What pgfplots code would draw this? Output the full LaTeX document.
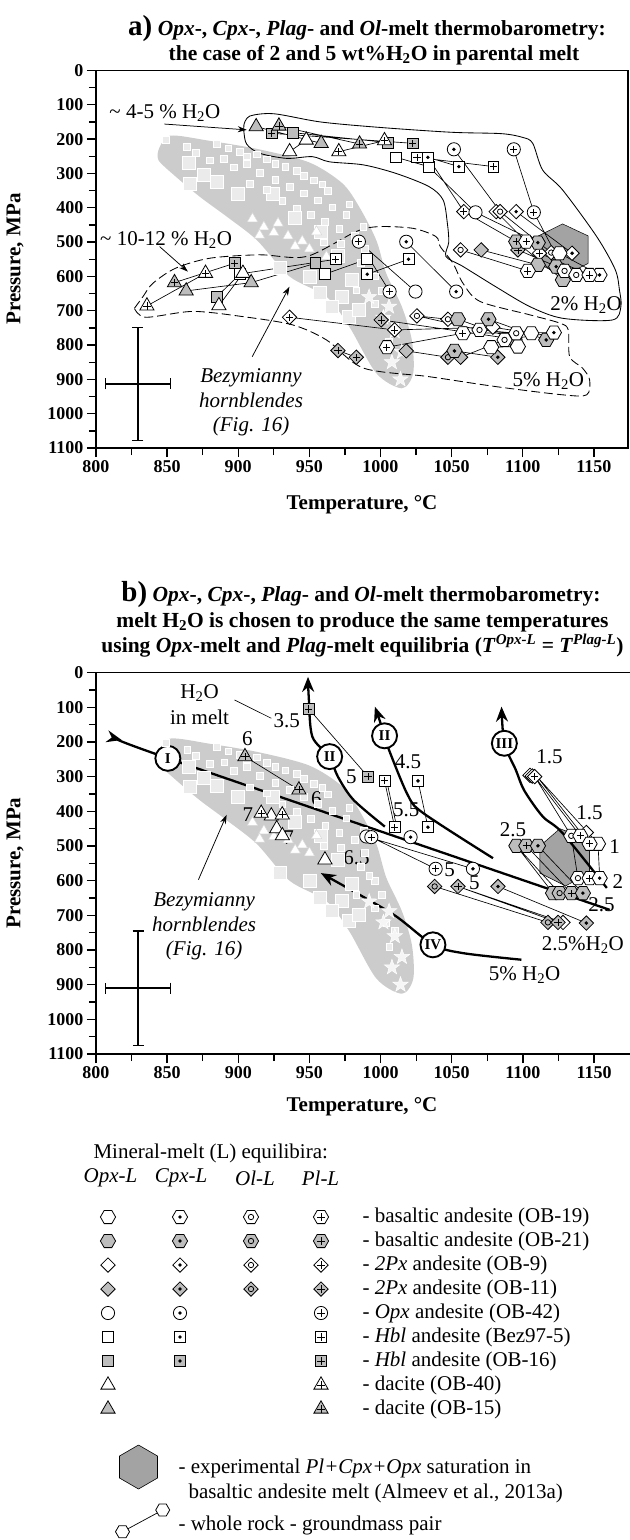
\documentclass[border=0pt]{standalone}
\usepackage{fontspec}
\setmainfont{Liberation Serif}
\usepackage{pgfplots}
\pgfplotsset{compat=1.18}
\usepackage{pgfplotstable}
\usetikzlibrary{arrows.meta}

\definecolor{blobgray}{gray}{0.80}
\definecolor{mkgray}{gray}{0.74}
\definecolor{expgray}{gray}{0.64}
\definecolor{hbfill}{gray}{0.92}
\newcommand\fs[2]{\fontsize{#1bp}{#2bp}\selectfont}

% ---------- plot marks: outline shapes ----------
\newcommand\hexpath{%
  \pgfpathmoveto{\pgfpoint{\pgfplotmarksize}{0pt}}%
  \pgfpathlineto{\pgfpoint{0.5\pgfplotmarksize}{0.866\pgfplotmarksize}}%
  \pgfpathlineto{\pgfpoint{-0.5\pgfplotmarksize}{0.866\pgfplotmarksize}}%
  \pgfpathlineto{\pgfpoint{-\pgfplotmarksize}{0pt}}%
  \pgfpathlineto{\pgfpoint{-0.5\pgfplotmarksize}{-0.866\pgfplotmarksize}}%
  \pgfpathlineto{\pgfpoint{0.5\pgfplotmarksize}{-0.866\pgfplotmarksize}}%
  \pgfpathclose}
\newcommand\diapath{%
  \pgfpathmoveto{\pgfpoint{0pt}{\pgfplotmarksize}}%
  \pgfpathlineto{\pgfpoint{\pgfplotmarksize}{0pt}}%
  \pgfpathlineto{\pgfpoint{0pt}{-\pgfplotmarksize}}%
  \pgfpathlineto{\pgfpoint{-\pgfplotmarksize}{0pt}}%
  \pgfpathclose}
\newcommand\sqrpath{%
  \pgfpathrectanglecorners{\pgfpoint{-\pgfplotmarksize}{-\pgfplotmarksize}}{\pgfpoint{\pgfplotmarksize}{\pgfplotmarksize}}}
\newcommand\cirpath{\pgfpathcircle{\pgfpointorigin}{\pgfplotmarksize}}
\newcommand\tripath{%
  \pgfpathmoveto{\pgfpoint{0pt}{\pgfplotmarksize}}%
  \pgfpathlineto{\pgfpoint{0.866\pgfplotmarksize}{-0.5\pgfplotmarksize}}%
  \pgfpathlineto{\pgfpoint{-0.866\pgfplotmarksize}{-0.5\pgfplotmarksize}}%
  \pgfpathclose}
% inner symbols: Cpx dot, Ol ring, Pl plus
\newcommand\indot{\begin{pgfscope}\pgfpathcircle{\pgfpointorigin}{1.9bp}\pgfsetfillcolor{black}\pgfusepathqfill\end{pgfscope}}
\newcommand\inring{\pgfpathcircle{\pgfpointorigin}{2.7bp}\pgfusepathqstroke}
\newcommand\inplus{\pgfpathmoveto{\pgfpoint{-3.6bp}{0pt}}\pgfpathlineto{\pgfpoint{3.6bp}{0pt}}%
  \pgfpathmoveto{\pgfpoint{0pt}{-3.6bp}}\pgfpathlineto{\pgfpoint{0pt}{3.6bp}}\pgfusepathqstroke}

\pgfdeclareplotmark{hexO}{\hexpath\pgfusepathqfillstroke}
\pgfdeclareplotmark{hexC}{\hexpath\pgfusepathqfillstroke\indot}
\pgfdeclareplotmark{hexL}{\hexpath\pgfusepathqfillstroke\inring}
\pgfdeclareplotmark{hexP}{\hexpath\pgfusepathqfillstroke\inplus}
\pgfdeclareplotmark{diaO}{\diapath\pgfusepathqfillstroke}
\pgfdeclareplotmark{diaC}{\diapath\pgfusepathqfillstroke\indot}
\pgfdeclareplotmark{diaL}{\diapath\pgfusepathqfillstroke\inring}
\pgfdeclareplotmark{diaP}{\diapath\pgfusepathqfillstroke\inplus}
\pgfdeclareplotmark{sqrO}{\sqrpath\pgfusepathqfillstroke}
\pgfdeclareplotmark{sqrC}{\sqrpath\pgfusepathqfillstroke\indot}
\pgfdeclareplotmark{sqrP}{\sqrpath\pgfusepathqfillstroke\inplus}
\pgfdeclareplotmark{cirO}{\cirpath\pgfusepathqfillstroke}
\pgfdeclareplotmark{cirC}{\cirpath\pgfusepathqfillstroke\indot}
\pgfdeclareplotmark{cirP}{\cirpath\pgfusepathqfillstroke\inplus}
\pgfdeclareplotmark{triO}{\tripath\pgfusepathqfillstroke}
\pgfdeclareplotmark{triP}{\tripath\pgfusepathqfillstroke\inplus}
\pgfdeclareplotmark{fstar}{%
  \pgfpathmoveto{\pgfpoint{0pt}{\pgfplotmarksize}}%
  \pgfpathlineto{\pgfpoint{-0.235\pgfplotmarksize}{0.324\pgfplotmarksize}}%
  \pgfpathlineto{\pgfpoint{-0.951\pgfplotmarksize}{0.309\pgfplotmarksize}}%
  \pgfpathlineto{\pgfpoint{-0.380\pgfplotmarksize}{-0.124\pgfplotmarksize}}%
  \pgfpathlineto{\pgfpoint{-0.588\pgfplotmarksize}{-0.809\pgfplotmarksize}}%
  \pgfpathlineto{\pgfpoint{0pt}{-0.4\pgfplotmarksize}}%
  \pgfpathlineto{\pgfpoint{0.588\pgfplotmarksize}{-0.809\pgfplotmarksize}}%
  \pgfpathlineto{\pgfpoint{0.380\pgfplotmarksize}{-0.124\pgfplotmarksize}}%
  \pgfpathlineto{\pgfpoint{0.951\pgfplotmarksize}{0.309\pgfplotmarksize}}%
  \pgfpathlineto{\pgfpoint{0.235\pgfplotmarksize}{0.324\pgfplotmarksize}}%
  \pgfpathclose\pgfusepathqfillstroke}

\pgfplotsset{
  W/.style={only marks, mark options={solid, fill=white, draw=black, line width=0.8bp}},
  G/.style={only marks, mark options={solid, fill=mkgray, draw=black, line width=0.8bp}},
  hx/.style={mark=hex#1, mark size=7.6bp},
  dm/.style={mark=dia#1, mark size=7.2bp},
  ci/.style={mark=cir#1, mark size=6.6bp},
  sq/.style={mark=sqr#1, mark size=5.4bp},
  tr/.style={mark=tri#1, mark size=8.2bp},
  pair/.style={no marks, line width=0.65bp, unbounded coords=jump},
  bigarrow/.style={no marks, smooth, line width=2.3bp, -{Stealth[length=15bp,width=12bp]}},
  errcross/.style={no marks, line width=1.6bp, {Bar[width=11bp]}-{Bar[width=11bp]}},
  panel/.style={scale only axis, xmin=800, ymin=0, ymax=1100, y dir=reverse,
    clip=false, axis line style={line width=1.5bp}, tick align=outside,
    xtick={800,850,...,1150}, minor xtick={825,875,...,1125},
    ytick={0,100,...,1100}, minor ytick={50,150,...,1050},
    major tick length=9bp, minor tick length=7bp,
    every tick/.style={black, line width=1.3bp},
    xtick pos=left, ytick pos=left,
    tick label style={font=\bfseries\fs{18}{18}},
    /pgf/number format/assume math mode=true, /pgf/number format/1000 sep={}},
}
\tikzset{
  ann/.style={font=\fs{21}{24}},
  rn/.style={circle, draw, line width=1.9bp, fill=white, minimum size=25bp, inner sep=0pt, font=\bfseries\fs{15}{15}},
  thinarrow/.style={line width=0.75bp, -{Stealth[length=9bp,width=6bp]}},
}

% Bezymianny hornblende field and its points
\pgfplotstableread{
T P
844 231
852 190
880 205
915 230
950 268
973 328
985 397
997 494
1004 591
1015 688
1022 785
1023 882
1015 926
997 882
978 746
962 659
936 600
913 494
892 426
873 368
856 309
844 262
844 231
}\blob
\pgfplotstableread{
T P
865 270
876 303
866 330
885 325
900 358
924 358
929 576
957 649
973 659
980 610
966 688
978 717
985 697
950 600
940 430
958 470
970 540
}\hbbig
\pgfplotstableread{
T P
849 202
864 222
885 214
893 226
901 236
906 250
913 244
920 259
926 271
933 281
941 292
946 306
953 320
959 332
963 351
897 282
906 272
915 298
926 318
936 338
946 358
956 378
966 398
976 420
931 380
941 401
951 421
961 441
971 461
982 482
989 520
986 560
996 600
1001 641
996 680
1004 722
890 258
908 330
920 348
972 505
960 500
988 455
978 390
992 585
1010 745
1006 790
983 640
870 240
880 262
}\hbsmall
\pgfplotstableread{
T P
910 432
918 456
925 472
935 482
945 497
928 445
950 520
940 512
962 542
955 470
915 480
}\hbtri
\pgfplotstableread{
T P
992 660
1006 688
1010 760
1002 720
1014 900
1015 820
1008 850
}\hbstar

\newcommand\hornblendes{%
  \addplot[fill=blobgray, draw=none, smooth] table {\blob};
  \addplot[only marks, mark=square*, mark size=6.5bp, mark options={fill=hbfill, draw=white, line width=0.6bp}] table {\hbbig};
  \addplot[only marks, mark=square*, mark size=3.3bp, mark options={fill=hbfill, draw=white, line width=0.5bp}] table {\hbsmall};
  \addplot[only marks, mark=triangle*, mark size=6bp, mark options={fill=white, draw=gray!30, line width=0.5bp}] table {\hbtri};
  \addplot[only marks, mark=fstar, mark size=8bp, mark options={fill=gray!8, draw=white, line width=0.5bp}] table {\hbstar};
}

\begin{document}
\begin{tikzpicture}
\path[use as bounding box] (0,0) rectangle (630bp,-1540bp);

% ---------------- titles and axis labels ----------------
\node[anchor=base, font=\bfseries\fs{21.5}{24}] at (367bp,-35bp)
  {{\fs{29}{30}a)} \textit{Opx}-, \textit{Cpx}-, \textit{Plag}- and \textit{Ol}-melt thermobarometry:};
\node[anchor=base, font=\bfseries\fs{21.5}{24}] at (374bp,-60bp)
  {the case of 2 and 5 wt\%H\textsubscript{2}O in parental melt};
\node[anchor=base, font=\bfseries\fs{21.5}{24}] at (361bp,-601bp)
  {{\fs{29}{30}b)} \textit{Opx}-, \textit{Cpx}-, \textit{Plag}- and \textit{Ol}-melt thermobarometry:};
\node[anchor=base, font=\bfseries\fs{21.5}{24}] at (362.5bp,-627bp)
  {melt H\textsubscript{2}O is chosen to produce the same temperatures};
\node[anchor=base, font=\bfseries\fs{21.5}{24}] at (362.5bp,-652bp)
  {using \textit{Opx}-melt and \textit{Plag}-melt equilibria (\textit{T}\textsuperscript{\textit{Opx-L}} = \textit{T}\textsuperscript{\textit{Plag-L}})};
\node[font=\bfseries\fs{21}{24}] at (362bp,-505bp) {Temperature, °C};
\node[font=\bfseries\fs{21}{24}] at (362bp,-1107bp) {Temperature, °C};
\node[rotate=90, font=\bfseries\fs{21}{24}] at (15bp,-259bp) {Pressure, MPa};
\node[rotate=90, font=\bfseries\fs{21}{24}] at (15bp,-863bp) {Pressure, MPa};

% ================= panel a =================
\begin{axis}[panel, at={(96bp,-70.5bp)}, anchor=north west, width=532bp, height=377.5bp, xmax=1174]
\hornblendes
% experimental Pl+Cpx+Opx saturation
\addplot[fill=expgray, draw=black, line width=0.5bp] coordinates {(1128,447)(1146,482)(1146,562)(1128,600)(1111,562)(1111,482)(1128,447)};
% 2 % H2O field (solid) and 5 % H2O field (dashed)
\addplot[smooth, line width=0.85bp] coordinates {(904,158)(908,133)(925,126)(958,150)(1000,166)(1050,180)(1085,184)(1100,195)(1107,212)(1114,290)(1128,348)(1152,484)(1165,580)(1168,640)(1169,688)(1163,727)(1128,722)(1105,688)(1081,630)(1058,571)(1046,542)(1048,500)(1047,445)(1044,377)(1034,338)(1011,300)(988,275)(964,266)(952,251)(934,256)(915,241)(906,215)(904,180)(904,158)};
\addplot[smooth, line width=0.85bp, dash pattern=on 9bp off 4bp] coordinates {(827,693)(833,659)(840,620)(856,576)(880,547)(915,537)(948,542)(983,469)(999,455)(1023,460)(1039,484)(1042,513)(1051,562)(1058,620)(1070,673)(1105,712)(1126,736)(1132,756)(1133,834)(1142,867)(1147,901)(1145,945)(1128,945)(1081,921)(1034,892)(988,867)(962,785)(938,741)(903,717)(868,702)(835,719)(827,693)};
% whole rock - groundmass pairs
\addplot[pair] coordinates {
(912.6,163.6)(958.3,212.2) (nan,nan) (928.6,161.7)(985.3,214.1) (nan,nan)
(938.4,181.1)(1005.2,210) (nan,nan) (923.4,183)(1022.7,212.2) (nan,nan)
(936.1,236.5)(947.8,202.5) (nan,nan) (970.7,236.5)(1002.8,204.4) (nan,nan)
(1011,253)(1033.8,280) (nan,nan) (1025.6,253)(1079.4,280) (nan,nan)
(1033.3,253)(1055.1,280) (nan,nan) (1033.8,280)(1066.8,413.2) (nan,nan)
(1033.3,253)(1058.6,411.2) (nan,nan) (1051.6,229.6)(1084.1,411.2) (nan,nan)
(1093.7,229.6)(1107.8,413.2) (nan,nan) (1058.6,411.2)(1095.4,498.6) (nan,nan)
(1081.3,411.2)(1102.4,498.6) (nan,nan) (1084.1,411.2)(1120,530.6) (nan,nan)
(1095.4,411.2)(1134.7,532.5) (nan,nan) (1107.8,413.2)(1129.4,584) (nan,nan)
(1066.8,413.2)(1110.6,501.5) (nan,nan) (1056.3,522.8)(1103.6,584) (nan,nan)
(1070.8,522.8)(1110.6,566.5) (nan,nan) (1096.6,522.8)(1137.6,595.7) (nan,nan)
(1111.8,532.5)(1146.9,595.7) (nan,nan) (1125.8,532.5)(1154,595.7) (nan,nan)
(1095.4,498.6)(1128.2,610.2) (nan,nan) (1110.6,501.5)(1123.5,571.4) (nan,nan)
(835.8,686)(877,590.8) (nan,nan) (855.2,618)(897.4,561.7) (nan,nan)
(863.4,642.3)(909.1,618) (nan,nan) (886.4,685)(903.3,590.8) (nan,nan)
(885,658.8)(901.4,592.7) (nan,nan) (901.4,592.7)(968.6,550) (nan,nan)
(909.1,618)(954.3,561.7) (nan,nan) (960.7,593.7)(990.4,550) (nan,nan)
(990.7,593.7)(1019.7,550) (nan,nan) (984.8,498.6)(1006.4,644.2) (nan,nan)
(984.8,498.6)(1024.6,644.2) (nan,nan) (1018.1,499)(1053.2,644.2) (nan,nan)
(936.1,719)(1009.9,755.9) (nan,nan) (1009.9,755.9)(1079,748) (nan,nan)
(1004.5,806.3)(1057.9,765.6) (nan,nan) (1000.5,726.7)(1094.2,783) (nan,nan)
(1025.6,715.1)(1047.4,724.8) (nan,nan) (1025.6,715.1)(1069.6,755.9) (nan,nan)
(1054.4,724.8)(1094.2,783) (nan,nan) (1075.9,724.8)(1116.5,785) (nan,nan)
(1069.6,755.9)(1095.4,765.6) (nan,nan) (1079,748)(1106,765.6) (nan,nan)
(1057.9,765.6)(1121.9,763.6) (nan,nan) (1077.8,806.3)(1096.6,804.4) (nan,nan)
(1087.2,785)(1121.9,763.6) (nan,nan) (1018.1,817)(1047.4,835.5) (nan,nan)
(1052,817)(1082.5,835.5) (nan,nan) (1056.3,835.5)(1087.2,785) (nan,nan)
(970.1,816)(983,835.5)};
% squares (Hbl andesites)
\addplot[G, sq=O] coordinates {(885,658.8)(954.3,561.7)(938.4,181.1)(1005.2,210)};
\addplot[G, sq=P] coordinates {(897.4,561.7)(923.4,183)(1022.7,212.2)};
\addplot[W, sq=O] coordinates {(990.4,550)(960.7,593.7)(1011,253)(1033.8,280)};
\addplot[W, sq=C] coordinates {(1019.7,550)(990.7,593.7)(1033.3,253)(1055.1,280)};
\addplot[W, sq=P] coordinates {(968.6,550)(901.4,592.7)(1025.6,253)(1079.4,280)};
% triangles (dacites)
\addplot[W, tr=O] coordinates {(886.4,685)(903.3,590.8)(936.1,236.5)(947.8,202.5)};
\addplot[W, tr=P] coordinates {(835.8,686)(877,590.8)(970.7,236.5)(1002.8,204.4)};
\addplot[G, tr=O] coordinates {(863.4,642.3)(909.1,618)(912.6,163.6)(958.3,212.2)};
\addplot[G, tr=P] coordinates {(855.2,618)(928.6,161.7)(985.3,214.1)};
% diamonds (2Px andesites)
\addplot[W, dm=O] coordinates {(1079,748)(1081.3,411.2)};
\addplot[W, dm=L] coordinates {(1025.6,715.1)(1047.4,724.8)(1056.3,522.8)(1120,530.6)(1084.1,411.2)};
\addplot[W, dm=C] coordinates {(1134.7,532.5)(1095.4,411.2)};
\addplot[W, dm=P] coordinates {(1009.9,755.9)(936.1,719)(1058.6,411.2)(1111.8,532.5)};
\addplot[G, dm=O] coordinates {(1018.1,817)(1056.3,835.5)(1070.8,522.8)};
\addplot[G, dm=L] coordinates {(1047.4,835.5)};
\addplot[G, dm=C] coordinates {(1082.5,835.5)};
\addplot[G, dm=P] coordinates {(1000.5,726.7)(970.1,816)(983,835.5)(1096.6,522.8)};
% hexagons (basaltic andesites)
\addplot[G, hx=O] coordinates {(1054.4,724.8)(1094.2,783)(1128.2,610.2)(1110.6,566.5)};
\addplot[G, hx=C] coordinates {(1075.9,724.8)(1116.5,785)(1052,817)(1123.5,571.4)(1110.6,501.5)};
\addplot[G, hx=P] coordinates {(1095.4,498.6)};
\addplot[W, hx=O] coordinates {(1106,765.6)(1077.8,806.3)(1096.6,804.4)(1125.8,532.5)};
\addplot[W, hx=L] coordinates {(1069.6,755.9)(1087.2,785)(1095.4,765.6)(1129.4,584)(1137.6,595.7)};
\addplot[W, hx=C] coordinates {(1121.9,763.6)(1154,595.7)};
\addplot[W, hx=P] coordinates {(1057.9,765.6)(1004.5,806.3)(1103.6,584)(1146.9,595.7)(1102.4,498.6)};
% circles (Opx andesite)
\addplot[W, ci=O] coordinates {(1024.6,644.2)(1066.8,413.2)};
\addplot[W, ci=C] coordinates {(1018.1,499)(1053.2,644.2)(1051.6,229.6)};
\addplot[W, ci=P] coordinates {(984.8,498.6)(1006.4,644.2)(1107.8,413.2)(1093.7,229.6)};
% typical uncertainty (T +- 23.5, P +- 167)
\addplot[errcross] coordinates {(829.5,746)(829.5,1080)};
\addplot[errcross] coordinates {(806,913)(853,913)};
% annotations
\node[ann, anchor=west] at (axis cs:807,124) {\textasciitilde\ 4-5 \% H\textsubscript{2}O};
\draw[thinarrow] (axis cs:848,156) -- (axis cs:906,173);
\node[ann, anchor=west] at (axis cs:800.5,494) {\textasciitilde\ 10-12 \% H\textsubscript{2}O};
\draw[thinarrow] (axis cs:844.7,513) -- (axis cs:864.6,586);
\node[ann, font=\itshape\fs{21}{24.5}, align=center] at (axis cs:909,967) {Bezymianny\\hornblendes\\(Fig. 16)};
\draw[thinarrow] (axis cs:909.8,834) -- (axis cs:936,630);
\node[ann] at (axis cs:1144.6,683) {2\% H\textsubscript{2}O};
\node[ann] at (axis cs:1118,906) {5\% H\textsubscript{2}O};
\end{axis}

% ================= panel b =================
\begin{axis}[panel, at={(96bp,-672.7bp)}, anchor=north west, width=535bp, height=381.3bp, xmax=1176]
\hornblendes
\addplot[fill=expgray, draw=black, line width=0.5bp] coordinates {(1126,450)(1147,482)(1147,578)(1130,615)(1112,578)(1112,500)(1126,450)};
% H2O trends
\addplot[bigarrow] coordinates {(1161,684)(850,246)(818,194)};
\addplot[bigarrow] coordinates {(1003,444)(981,367)(970,300)(964,242)(952,184)(949.5,69)(949,12)};
\addplot[bigarrow] coordinates {(1079,535)(1030,405)(1019,352)(1005,213)(1003,182)(996,98)};
\addplot[bigarrow] coordinates {(1159,621)(1128,463)(1114,415)(1101,340)(1095,280)(1087,204)(1085,98)};
\addplot[bigarrow] coordinates {(1099,828)(1058,809)(1037,785)(1011,703)(985,640)(958,578)};
% pairs
\addplot[pair] coordinates {
(897.4,78.7)(923.2,131.4) (nan,nan)
(949.6,104.6)(991.1,299.6) (nan,nan) (904.7,242)(942.6,338) (nan,nan)
(1002.8,312)(1009.9,445.6) (nan,nan) (1004.3,312)(1011.4,445.6) (nan,nan)
(1026.3,312)(1033.3,445.6) (nan,nan) (993.5,474.4)(1038.7,565.7) (nan,nan)
(990,472.5)(1064.9,565.7) (nan,nan) (1038,616.6)(1117.6,720.3) (nan,nan)
(1054.4,616.6)(1124.7,720.3) (nan,nan) (1056,619)(1128.2,720.3) (nan,nan)
(1082.5,616.6)(1144.6,722.2) (nan,nan) (1108.3,299.6)(1134,470.6) (nan,nan)
(1108.3,299.6)(1140.4,470.6) (nan,nan) (1110,300)(1146.9,493.6) (nan,nan)
(1110,300)(1152.8,493.6) (nan,nan) (1095.4,499.4)(1121.2,635.8) (nan,nan)
(1095.4,499.4)(1125.8,635.8) (nan,nan) (1102.4,499.4)(1134,635.8) (nan,nan)
(1110.6,499.4)(1142.2,635.8) (nan,nan) (1134,470.6)(1138.7,592.6) (nan,nan)
(1146.9,493.6)(1146.9,592.6) (nan,nan) (1152.8,493.6)(1154,592.6)};
\addplot[G, sq=P] coordinates {(949.6,104.6)(991.1,299.6)};
\addplot[W, sq=P] coordinates {(1002.8,312)(1009.9,445.6)};
\addplot[W, sq=C] coordinates {(1026.3,312)(1033.3,445.6)};
\addplot[W, tr=O] coordinates {(923.2,413)(927,450)(931,470)(960.9,539.8)};
\addplot[W, tr=P] coordinates {(916.1,405.3)(930.9,410)};
\addplot[G, tr=P] coordinates {(904.7,242)(942.6,338)};
\addplot[W, dm=O] coordinates {(1105,296)(1106.6,298)(1128.2,720.3)(1144.6,461)};
\addplot[W, dm=P] coordinates {(1108.3,299.6)};
\addplot[G, dm=L] coordinates {(1038,616.6)(1117.6,720.3)};
\addplot[G, dm=P] coordinates {(1054.4,616.6)(1124.7,720.3)};
\addplot[G, dm=C] coordinates {(1082.5,616.6)(1144.6,722.2)};
\addplot[G, hx=O] coordinates {(1095.4,499.4)(1121.2,635.8)};
\addplot[G, hx=L] coordinates {(1125.8,635.8)};
\addplot[G, hx=P] coordinates {(1102.4,499.4)(1134,635.8)};
\addplot[G, hx=C] coordinates {(1110.6,499.4)(1142.2,635.8)};
\addplot[W, hx=O] coordinates {(1152.8,493.6)};
\addplot[W, hx=L] coordinates {(1134,470.6)(1138.7,592.6)};
\addplot[W, hx=P] coordinates {(1140.4,470.6)(1146.9,493.6)(1146.9,592.6)};
\addplot[W, hx=C] coordinates {(1154,592.6)};
\addplot[W, ci=O] coordinates {(990,472.5)};
\addplot[W, ci=P] coordinates {(993.5,474.4)(1038.7,565.7)};
\addplot[W, ci=C] coordinates {(1021.1,474.4)(1064.9,565.7)};
% typical uncertainty
\addplot[errcross] coordinates {(829.6,742)(829.6,1078)};
\addplot[errcross] coordinates {(806,910)(853,910)};
% trend labels
\node[rn] at (axis cs:850.5,247) {I};
\node[rn] at (axis cs:964.2,242) {II};
\node[rn] at (axis cs:1002.8,182) {II};
\node[rn] at (axis cs:1087,203.6) {III};
\node[rn] at (axis cs:1036.8,785) {IV};
% melt H2O labels
\node[ann] at (axis cs:872.8,59) {H\textsubscript{2}O};
\node[ann] at (axis cs:872.8,129) {in melt};
\node[ann] at (axis cs:934,137) {3.5};
\node[ann] at (axis cs:906.3,189) {6};
\node[ann] at (axis cs:954.8,362) {6};
\node[ann] at (axis cs:906.8,410) {7};
\node[ann] at (axis cs:935.4,477) {7};
\node[ann] at (axis cs:983,535) {6.5};
\node[ann] at (axis cs:979.4,300) {5};
\node[ann] at (axis cs:1019.2,256.5) {4.5};
\node[ann] at (axis cs:1018,395.7) {5.5};
\node[ann] at (axis cs:1048.5,569) {5};
\node[ann] at (axis cs:1066,607) {5};
\node[ann] at (axis cs:1093,453) {2.5};
\node[ann] at (axis cs:1118.8,242) {1.5};
\node[ann] at (axis cs:1146.9,405) {1.5};
\node[ann] at (axis cs:1164.5,501) {1};
\node[ann] at (axis cs:1166.8,602) {2};
\node[ann] at (axis cs:1155.2,669) {2.5};
\node[ann] at (axis cs:1142.2,785) {2.5\%H\textsubscript{2}O};
\node[ann] at (axis cs:1101.2,871) {5\% H\textsubscript{2}O};
\node[ann, font=\itshape\fs{21}{24.5}, align=center] at (axis cs:876,732) {Bezymianny\\hornblendes\\(Fig. 16)};
\draw[thinarrow] (axis cs:872,597) -- (axis cs:891.8,410);
\end{axis}

% ================= key =================
\begin{axis}[at={(0,-1130bp)}, anchor=north west, scale only axis, width=630bp, height=410bp,
  xmin=0, xmax=630, ymin=1130, ymax=1540, y dir=reverse, hide axis, clip=false]
\node[ann, anchor=west] at (axis cs:90,1153) {Mineral-melt (L) equilibira:};
\node[ann, font=\itshape\fs{21}{24}] at (axis cs:110.5,1178) {Opx-L};
\node[ann, font=\itshape\fs{21}{24}] at (axis cs:181,1178) {Cpx-L};
\node[ann, font=\itshape\fs{21}{24}] at (axis cs:255,1178) {Ol-L};
\node[ann, font=\itshape\fs{21}{24}] at (axis cs:320.5,1178) {Pl-L};
\addplot[W, hx=O] coordinates {(108,1217)};
\addplot[W, hx=C] coordinates {(180,1217)};
\addplot[W, hx=L] coordinates {(251,1217)};
\addplot[W, hx=P] coordinates {(321,1217)};
\addplot[G, hx=O] coordinates {(108,1241)};
\addplot[G, hx=C] coordinates {(180,1241)};
\addplot[G, hx=L] coordinates {(251,1241)};
\addplot[G, hx=P] coordinates {(321,1241)};
\addplot[W, dm=O] coordinates {(108,1265)};
\addplot[W, dm=C] coordinates {(180,1265)};
\addplot[W, dm=L] coordinates {(251,1265)};
\addplot[W, dm=P] coordinates {(321,1265)};
\addplot[G, dm=O] coordinates {(108,1289)};
\addplot[G, dm=C] coordinates {(180,1289)};
\addplot[G, dm=L] coordinates {(251,1289)};
\addplot[G, dm=P] coordinates {(321,1289)};
\addplot[W, ci=O] coordinates {(108,1313)};
\addplot[W, ci=C] coordinates {(180,1313)};
\addplot[W, ci=P] coordinates {(321,1313)};
\addplot[W, sq=O] coordinates {(108,1337)};
\addplot[W, sq=C] coordinates {(180,1337)};
\addplot[W, sq=P] coordinates {(321,1337)};
\addplot[G, sq=O] coordinates {(108,1361)};
\addplot[G, sq=C] coordinates {(180,1361)};
\addplot[G, sq=P] coordinates {(321,1361)};
\addplot[W, tr=O] coordinates {(108,1385)};
\addplot[W, tr=P] coordinates {(321,1385)};
\addplot[G, tr=O] coordinates {(108,1409)};
\addplot[G, tr=P] coordinates {(321,1409)};
\node[ann, anchor=west] at (axis cs:359,1217) {- basaltic andesite (OB-19)};
\node[ann, anchor=west] at (axis cs:359,1241) {- basaltic andesite (OB-21)};
\node[ann, anchor=west] at (axis cs:359,1265) {- \textit{2Px} andesite (OB-9)};
\node[ann, anchor=west] at (axis cs:359,1289) {- \textit{2Px} andesite (OB-11)};
\node[ann, anchor=west] at (axis cs:359,1313) {- \textit{Opx} andesite (OB-42)};
\node[ann, anchor=west] at (axis cs:359,1337) {- \textit{Hbl} andesite (Bez97-5)};
\node[ann, anchor=west] at (axis cs:359,1361) {- \textit{Hbl} andesite (OB-16)};
\node[ann, anchor=west] at (axis cs:359,1385) {- dacite (OB-40)};
\node[ann, anchor=west] at (axis cs:359,1409) {- dacite (OB-15)};
\addplot[fill=expgray, draw=black, line width=0.6bp] coordinates {(138.5,1445)(157.5,1456)(157.5,1478)(138.5,1489)(119.5,1478)(119.5,1456)(138.5,1445)};
\node[ann, anchor=west] at (axis cs:175,1468) {- experimental \textit{Pl+Cpx+Opx} saturation in};
\node[ann, anchor=west] at (axis cs:185,1493) {basaltic andesite melt (Almeev et al., 2013a)};
\addplot[no marks, line width=0.7bp] coordinates {(122.5,1531.7)(162.7,1510)};
\addplot[W, mark=hexO, mark size=7bp] coordinates {(122.5,1531.7)(162.7,1510)};
\node[ann, anchor=west] at (axis cs:175,1525) {- whole rock - groundmass pair};
\end{axis}
\end{tikzpicture}
\end{document}
